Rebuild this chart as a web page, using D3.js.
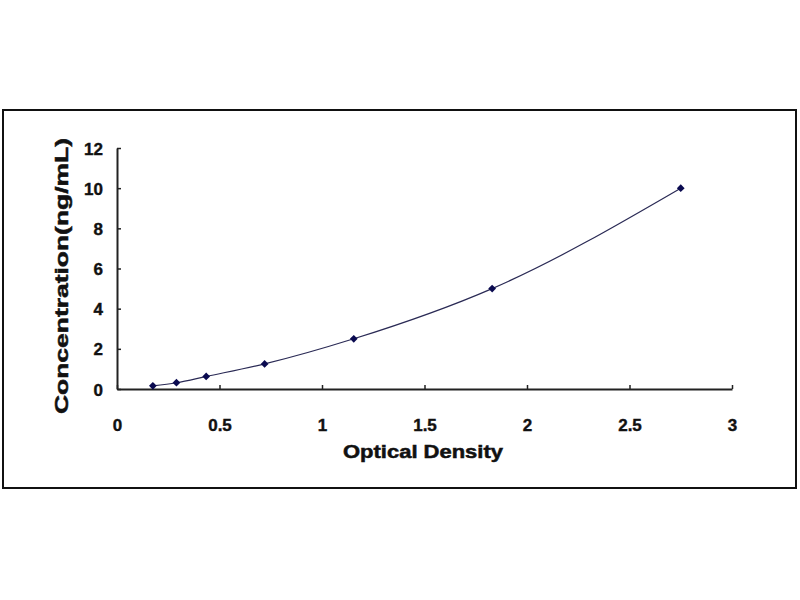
<!DOCTYPE html>
<html>
<head>
<meta charset="utf-8">
<script src="https://cdn.jsdelivr.net/npm/d3@7"></script>
<style>
    body { margin: 0; background: #fff; }
    svg text { font-family: "Liberation Sans", Arial, sans-serif; font-weight: bold; fill: #111; }
</style>
</head>
<body>
<svg id="chart" width="800" height="600"></svg>
<script>
const opticalDensity = [0.175, 0.29, 0.435, 0.72, 1.155, 1.83, 2.75];
const concentration = [0.156, 0.312, 0.625, 1.25, 2.5, 5, 10];
const xTicks = [0, 0.5, 1, 1.5, 2, 2.5, 3];
const yTicks = [0, 2, 4, 6, 8, 10, 12];

const X_TITLE = "Optical Density";
const Y_TITLE = "Concentration(ng/mL)";

const svg = d3.select("#chart");

// outer frame round the whole figure
svg.append("rect")
    .attr("x", 3).attr("y", 110)
    .attr("width", 793).attr("height", 378)
    .attr("fill", "none")
    .attr("stroke", "#111")
    .attr("stroke-width", 2);

const x = d3.scaleLinear().domain([0, 3]).range([117, 732]);
const y = d3.scaleLinear().domain([0, 12]).range([389, 148]);

let xAxis = d3.axisBottom(x)
    .tickValues(xTicks)
    .tickFormat(d3.format("~g"))
    .tickSizeInner(-4)
    .tickSizeOuter(0)
    .tickPadding(30);

let yAxis = d3.axisLeft(y)
    .tickValues(yTicks)
    .tickSizeInner(-4)
    .tickSizeOuter(0)
    .tickPadding(14);

let gx = svg.append("g")
    .attr("transform", "translate(0," + y(0) + ")")
    .call(xAxis);

let gy = svg.append("g")
    .attr("transform", "translate(" + x(0) + ",0)")
    .call(yAxis);

[gx, gy].forEach((g) => {
    g.select(".domain").attr("stroke", "#222").attr("stroke-width", 2);
    g.selectAll(".tick line").attr("stroke", "#222").attr("stroke-width", 1.5);
    g.selectAll(".tick text")
        .attr("font-size", 17)
        .attr("fill", "#111")
        .attr("stroke", "#111")
        .attr("stroke-width", 0.4);
});
gy.selectAll(".tick text").attr("dy", "0.36em");

// fitted curve through the standards
const points = opticalDensity.map((d, i) => [d, concentration[i]]);

const line = d3.line()
    .x((d) => x(d[0]))
    .y((d) => y(d[1]))
    .curve(d3.curveMonotoneX);

svg.append("path")
    .datum(points)
    .attr("d", line)
    .attr("fill", "none")
    .attr("stroke", "#2a2a55")
    .attr("stroke-width", 1.2);

svg.append("g")
    .selectAll("path")
    .data(points)
    .enter().append("path")
        .attr("transform", (d) => "translate(" + x(d[0]) + "," + y(d[1]) + ") rotate(45)")
        .attr("d", d3.symbol().type(d3.symbolSquare).size(30))
        .attr("fill", "#0a0a50");

svg.append("text")
    .attr("x", 423).attr("y", 458)
    .attr("text-anchor", "middle")
    .attr("font-size", 18)
    .attr("stroke", "#111")
    .attr("stroke-width", 0.5)
    .attr("textLength", 160)
    .attr("lengthAdjust", "spacingAndGlyphs")
    .text(X_TITLE);

svg.append("text")
    .attr("transform", "translate(68,276) rotate(-90)")
    .attr("text-anchor", "middle")
    .attr("font-size", 18)
    .attr("stroke", "#111")
    .attr("stroke-width", 0.5)
    .attr("textLength", 276)
    .attr("lengthAdjust", "spacingAndGlyphs")
    .text(Y_TITLE);
</script>
</body>
</html>
